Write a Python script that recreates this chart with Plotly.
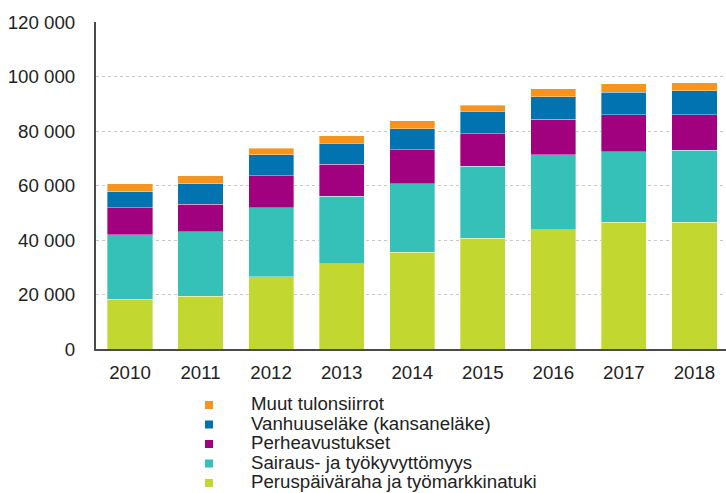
import plotly.graph_objects as go

years = ["2010", "2011", "2012", "2013", "2014", "2015", "2016", "2017", "2018"]

peruspaivaraha = [18350, 19450, 26550, 31300, 35500, 40700, 43700, 46600, 46600]
sairaus = [23500, 23600, 25300, 24700, 25200, 26400, 27500, 25800, 26400]
perheavustukset = [10000, 10000, 11750, 11750, 12500, 11900, 13100, 13600, 13000]
vanhuuselake = [5900, 7600, 7600, 7700, 7600, 8200, 8200, 8300, 8800]
muut = [2900, 2950, 2450, 2800, 2950, 2300, 2950, 2950, 2950]

series_names = [
    "Peruspäiväraha ja työmarkkinatuki",
    "Sairaus- ja työkyvyttömyys",
    "Perheavustukset",
    "Vanhuuseläke (kansaneläke)",
    "Muut tulonsiirrot",
]
series_values = [peruspaivaraha, sairaus, perheavustukset, vanhuuselake, muut]
series_colors = ["#C2D72F", "#35C1B8", "#A1007F", "#0073B0", "#F7941E"]

y_ticks = [0, 20000, 40000, 60000, 80000, 100000, 120000]

W, H = 726, 493
ML, MR, MT, MB = 96, 0, 22, 144
plot_w = W - ML - MR
plot_h = H - MT - MB

FONT = "Liberation Sans, Arial, sans-serif"
FS = 18.7

fig = go.Figure()
for name, vals, col in zip(series_names, series_values, series_colors):
    fig.add_trace(go.Bar(
        x=years, y=vals, name=name,
        marker=dict(color=col, line=dict(color="rgba(255,255,255,0.6)", width=0.6)),
        showlegend=False,
    ))

# custom legend (top to bottom: reversed stacking order)
def px_to_paper_x(px):
    return (px - ML) / plot_w

def px_to_paper_y(py):
    return (H - MB - py) / plot_h

for i, (name, col) in enumerate(zip(series_names[::-1], series_colors[::-1])):
    cy = 405 + i * 19.5
    fig.add_shape(type="rect", xref="paper", yref="paper",
                  x0=px_to_paper_x(205), x1=px_to_paper_x(213),
                  y0=px_to_paper_y(cy + 4), y1=px_to_paper_y(cy - 4),
                  fillcolor=col, line=dict(width=0))
    fig.add_annotation(xref="paper", yref="paper",
                       x=px_to_paper_x(249), y=px_to_paper_y(cy - 1.5),
                       xanchor="left", yanchor="middle", showarrow=False,
                       text=name, font=dict(family=FONT, size=FS, color="#222"))

fig.update_layout(
    width=W, height=H,
    margin=dict(l=ML, r=MR, t=MT, b=MB, autoexpand=False),
    barmode="stack", bargap=0.36,
    plot_bgcolor="white", paper_bgcolor="white",
    separators=", ",
    font=dict(family=FONT, size=FS, color="#222"),
    showlegend=False,
)
fig.update_xaxes(
    type="category", range=[-0.482, 8.447],
    showline=True, linecolor="#4a4a4a", linewidth=2,
    showgrid=False, ticks="", ticklabelstandoff=6,
    tickfont=dict(family=FONT, size=FS, color="#222"),
)
fig.update_yaxes(
    range=[0, 120000], tickvals=y_ticks, tickformat=",d",
    showline=True, linecolor="#4a4a4a", linewidth=2,
    showgrid=True, gridcolor="#c8c8c8", griddash="dot", gridwidth=1,
    zeroline=False, ticks="", ticklabelstandoff=15,
    tickfont=dict(family=FONT, size=FS, color="#222"),
)

fig.write_html(
    "out.html",
    config={"displayModeBar": False},
    post_script="document.body.style.margin='0';document.body.style.overflow='hidden';",
)
